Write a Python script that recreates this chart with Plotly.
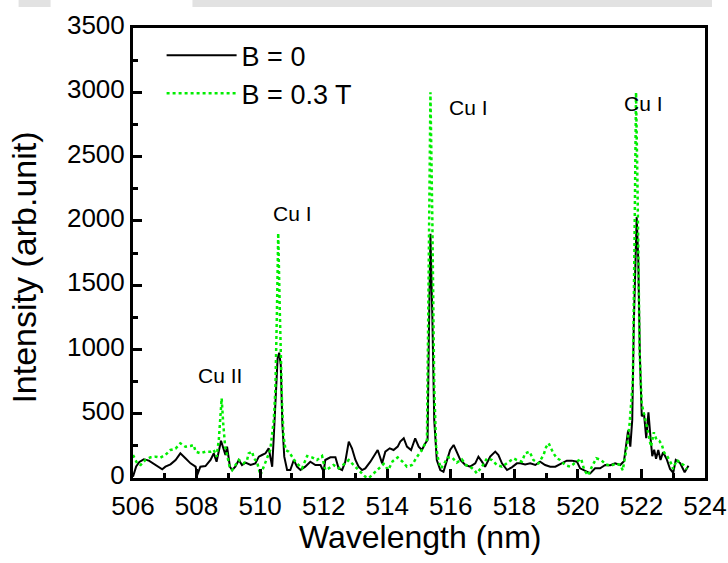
import plotly.graph_objects as go

# Emission spectrum, no field (B = 0)
wl_b0 = [506.00, 506.10, 506.20, 506.34, 506.50, 506.71, 506.92, 507.02, 507.18, 507.34,
         507.49, 507.65, 507.81, 507.97, 508.02, 508.12, 508.28, 508.44, 508.54, 508.63,
         508.70, 508.77, 508.86, 508.91, 508.96, 509.05, 509.12, 509.22, 509.33, 509.43,
         509.54, 509.70, 509.85, 509.96, 510.06, 510.17, 510.27, 510.38, 510.43, 510.50,
         510.55, 510.60, 510.65, 510.70, 510.76, 510.85, 510.95, 511.06, 511.16, 511.27,
         511.42, 511.58, 511.74, 511.90, 512.00, 512.05, 512.21, 512.37, 512.47, 512.58,
         512.68, 512.79, 512.89, 513.00, 513.10, 513.21, 513.31, 513.47, 513.57, 513.70,
         513.84, 513.94, 514.08, 514.20, 514.33, 514.41, 514.52, 514.62, 514.75, 514.88,
         514.99, 515.09, 515.20, 515.27, 515.31, 515.36, 515.42, 515.48, 515.56, 515.67,
         515.77, 515.88, 515.98, 516.09, 516.19, 516.30, 516.46, 516.61, 516.77, 516.87,
         516.98, 517.08, 517.24, 517.40, 517.50, 517.61, 517.77, 517.92, 518.08, 518.19,
         518.34, 518.50, 518.66, 518.81, 518.97, 519.13, 519.29, 519.39, 519.50, 519.65,
         519.81, 519.97, 520.07, 520.23, 520.39, 520.54, 520.70, 520.86, 521.02, 521.17,
         521.33, 521.45, 521.52, 521.58, 521.65, 521.71, 521.76, 521.81, 521.85, 521.90,
         521.95, 522.01, 522.08, 522.15, 522.22, 522.29, 522.34, 522.40, 522.46, 522.53,
         522.60, 522.68, 522.79, 522.90, 523.00, 523.08, 523.22, 523.36, 523.48]
int_b0 = [10, 90, 125, 145, 135, 100, 68, 88, 106, 140,
          192, 153, 114, 88, 23, 88, 93, 140, 192, 127,
          218, 290, 218, 179, 243, 88, 62, 88, 140, 101,
          119, 101, 114, 166, 179, 192, 231, 88, 321, 700,
          930, 975, 880, 420, 166, 62, 62, 140, 88, 62,
          88, 127, 101, 101, 49, 140, 161, 161, 75, 62,
          127, 283, 231, 140, 88, 62, 75, 127, 166, 218,
          114, 205, 231, 218, 244, 283, 309, 244, 218, 309,
          244, 218, 270, 296, 1100, 1900, 1250, 450, 140, 62,
          49, 140, 218, 257, 205, 140, 101, 88, 114, 166,
          127, 88, 166, 205, 179, 114, 62, 83, 114, 114,
          106, 114, 101, 127, 101, 88, 88, 101, 114, 135,
          135, 127, 75, 55, 36, 75, 75, 101, 100, 114,
          101, 130, 257, 370, 244, 450, 1200, 1800, 2030, 1700,
          950, 480, 500, 310, 510, 300, 170, 220, 150, 218,
          140, 200, 150, 70, 40, 140, 115, 45, 95]

# Emission spectrum with applied field (B = 0.3 T)
wl_b03 = [506.00, 506.13, 506.24, 506.39, 506.55, 506.71, 506.86, 507.02, 507.18, 507.34,
          507.49, 507.65, 507.81, 507.91, 507.97, 508.12, 508.28, 508.44, 508.54, 508.63,
          508.70, 508.75, 508.79, 508.84, 508.90, 508.98, 509.04, 509.12, 509.22, 509.33,
          509.48, 509.59, 509.64, 509.75, 509.80, 509.90, 510.01, 510.11, 510.22, 510.32,
          510.43, 510.48, 510.53, 510.57, 510.62, 510.69, 510.74, 510.80, 510.90, 511.00,
          511.11, 511.21, 511.32, 511.48, 511.63, 511.79, 511.95, 512.05, 512.16, 512.31,
          512.47, 512.68, 512.79, 512.94, 513.10, 513.21, 513.31, 513.42, 513.55, 513.68,
          513.80, 513.89, 514.03, 514.17, 514.33, 514.48, 514.62, 514.78, 514.94, 515.07,
          515.17, 515.25, 515.30, 515.36, 515.42, 515.48, 515.54, 515.60, 515.69, 515.80,
          515.90, 516.04, 516.19, 516.35, 516.48, 516.61, 516.74, 516.82, 516.98, 517.14,
          517.30, 517.45, 517.61, 517.77, 517.98, 518.08, 518.24, 518.34, 518.48, 518.60,
          518.76, 518.92, 519.00, 519.08, 519.15, 519.23, 519.34, 519.44, 519.60, 519.76,
          519.92, 520.02, 520.10, 520.20, 520.32, 520.44, 520.58, 520.73, 520.88, 521.04,
          521.20, 521.34, 521.41, 521.49, 521.56, 521.63, 521.68, 521.73, 521.78, 521.83,
          521.88, 521.94, 522.01, 522.07, 522.15, 522.22, 522.30, 522.39, 522.47, 522.56,
          522.64, 522.71, 522.82, 522.92, 523.00, 523.11, 523.24, 523.33, 523.43]
int_b03 = [179, 114, 101, 140, 161, 166, 158, 179, 218, 228,
           270, 243, 249, 257, 205, 192, 205, 205, 218, 166,
           296, 451, 620, 420, 243, 158, 88, 62, 101, 140,
           114, 140, 192, 205, 153, 127, 23, 88, 166, 218,
           451, 685, 1300, 1906, 1300, 580, 321, 218, 205, 166,
           127, 101, 75, 171, 161, 140, 171, 62, 75, 101,
           75, 114, 140, 101, 62, 36, 10, 0, 30, 62,
           90, 110, 62, 130, 160, 127, 88, 101, 166, 210,
           257, 296, 1500, 3000, 2000, 700, 244, 150, 75, 114,
           160, 160, 120, 145, 100, 88, 62, 36, 88, 153,
           140, 101, 88, 114, 153, 140, 127, 192, 205, 140,
           114, 179, 240, 270, 231, 192, 153, 140, 100, 88,
           120, 140, 150, 62, 20, 88, 153, 140, 105, 95,
           114, 100, 60, 170, 275, 430, 580, 760, 1800, 3000,
           2200, 1000, 575, 520, 425, 340, 244, 355, 300, 290,
           260, 200, 165, 120, 70, 140, 120, 100, 68]

# Line identifications
line_labels = ["Cu II", "Cu I", "Cu I", "Cu I"]
label_wl = [508.75, 511.02, 516.55, 522.05]
label_int = [800, 2060, 2880, 2910]

FONT = "Liberation Sans, Arial, Helvetica, sans-serif"

# plot-area geometry in pixels
L, R, T, B = 132.5, 23, 28, 85
W, H = 728, 563
PW, PH = W - L - R, H - T - B

fig = go.Figure()
fig.add_trace(go.Scatter(
    x=wl_b0, y=int_b0, mode="lines", name="B = 0",
    line=dict(color="black", width=2),
))
fig.add_trace(go.Scatter(
    x=wl_b03, y=int_b03, mode="lines", name="B = 0.3 T",
    line=dict(color="#00ee00", width=2.5, dash="dot"),
))

for txt, xv, yv in zip(line_labels, label_wl, label_int):
    fig.add_annotation(x=xv, y=yv, text=txt, showarrow=False,
                       font=dict(family=FONT, size=21, color="black"))

# axis titles
fig.add_annotation(text="Wavelength (nm)", xref="paper", yref="paper",
                   x=(420 - L) / PW, y=1 - (537 - T) / PH,
                   xanchor="center", yanchor="middle", showarrow=False,
                   font=dict(family=FONT, size=32, color="black"))
fig.add_annotation(text="Intensity (arb.unit)", xref="paper", yref="paper",
                   x=(23 - L) / PW, y=1 - (268 - T) / PH, textangle=-90,
                   xanchor="center", yanchor="middle", showarrow=False,
                   font=dict(family=FONT, size=34, color="black"))

axis_common = dict(
    showline=True, linewidth=3, linecolor="black", mirror=True,
    showgrid=False, zeroline=False, automargin=False,
    ticks="inside", ticklen=9, tickwidth=2.5, tickcolor="black",
    tickfont=dict(family=FONT, size=26, color="black"),
)

fig.update_xaxes(
    range=[506, 524], tick0=506, dtick=2, ticklabelstandoff=3,
    minor=dict(dtick=1, ticks="inside", ticklen=5, tickwidth=2.5, tickcolor="black"),
    **axis_common,
)
fig.update_yaxes(
    range=[0, 3500], tick0=0, dtick=500, ticklabelshift=-3,
    minor=dict(dtick=250, ticks="inside", ticklen=5, tickwidth=2.5, tickcolor="black"),
    **axis_common,
)

# light grey strip across the top of the page
for x0, x1 in [(18, 50), (192, 712)]:
    fig.add_shape(type="rect", xref="paper", yref="paper",
                  x0=(x0 - L) / PW, x1=(x1 - L) / PW,
                  y0=1 + (T - 7) / PH, y1=1 + T / PH,
                  line=dict(width=0), fillcolor="#e2e2e2", layer="below")

fig.update_layout(
    width=W, height=H,
    margin=dict(l=L, r=R, t=T, b=B, autoexpand=False),
    paper_bgcolor="white", plot_bgcolor="white",
    font=dict(family=FONT, color="black"),
    legend=dict(x=0.05, y=0.993, xanchor="left", yanchor="top",
                font=dict(family=FONT, size=27, color="black"),
                bgcolor="rgba(0,0,0,0)", itemwidth=70, tracegroupgap=0),
    showlegend=True,
)

fig.write_html("out.html")
